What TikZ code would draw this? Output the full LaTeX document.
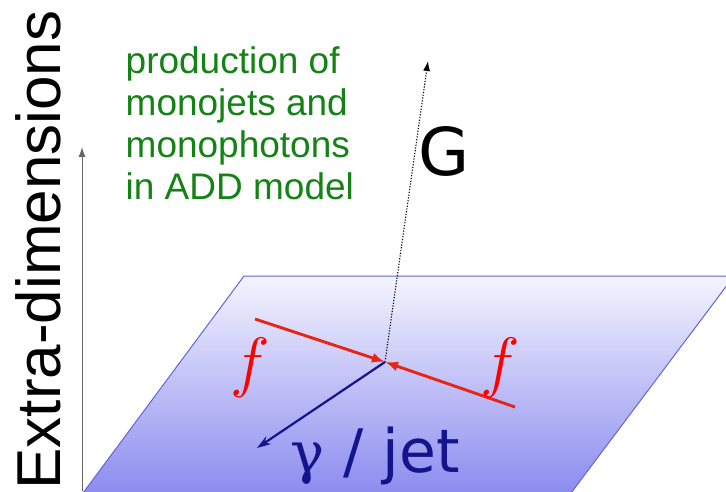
\documentclass[tikz,border=0pt]{standalone}
\usepackage{fix-cm}
\usepackage{fontspec}
\setmainfont{Liberation Sans}
\newfontfamily\dejavu{DejaVu Sans}
\newfontfamily\greekserif{DejaVu Serif}
\usepackage{xcolor}
\definecolor{fermred}{RGB}{232,36,20}
\definecolor{jetnavy}{RGB}{20,20,140}
\definecolor{captgreen}{RGB}{20,130,20}
\definecolor{braneedge}{RGB}{100,100,210}
\definecolor{branetop}{RGB}{244,244,254}
\definecolor{branebot}{RGB}{140,140,240}
\usepackage{tikz}
\usetikzlibrary{arrows.meta}
\tikzset{
    fermArr/.style  = {-{Latex[length=13pt,width=10pt]}, line width=2.9pt, draw=fermred},
    jetArr/.style   = {-{Stealth[length=14pt,width=9pt]}, line width=2.2pt, draw=jetnavy},
    gravArr/.style  = {-{Latex[length=10pt,width=7pt]}, line width=1.1pt,
                       dash pattern=on 1.2pt off 1.6pt, draw=black},
    axisArr/.style  = {-{Latex[length=10pt,width=7pt]}, line width=1pt, draw=gray!80!black},
    brane/.style    = {draw=braneedge, line width=1pt, top color=branetop, bottom color=branebot},
    biglabel/.style = {inner sep=0pt, font=\fontsize{62}{70}\selectfont}
}

\begin{document}
\begin{tikzpicture}[x=1pt, y=1pt,
    caption/.style = {inner sep=0pt, align=left, text=captgreen,
                      font=\fontsize{37}{42}\selectfont},
    flabel/.style  = {inner sep=0pt, text=red, font=\fontsize{67}{70}\selectfont}
]
\useasboundingbox (0,0) rectangle (726,491);
\clip (0,0) rectangle (726,491);

% ===== Brane (the 3+1 world) =====
\path[brane] (244,215) -- (734,215) -- (571,-2) -- (83,-2) -- cycle;

% ===== Extra-dimension axis =====
\coordinate (axisfoot) at (82,0);
\coordinate (axistip) at (82,344);
\draw[axisArr] (axisfoot) -- (axistip);
\node[biglabel, rotate=90, anchor=base] (extradim) at (60,241) {Extra-dimensions};

% ===== Vertex and legs =====
\coordinate (vtx) at (385,129);
\coordinate (fin) at (255,172);
\coordinate (fbarin) at (515,84);
\coordinate (gout) at (428,430);
\coordinate (jetout) at (257,43);

\draw[gravArr] (vtx) -- (gout);
\draw[jetArr] (vtx) -- (jetout);
\draw[fermArr] (fin) -- (vtx);
\draw[fermArr] (fbarin) -- (vtx);

% ===== Labels =====
\node[caption, anchor=north west] (prodtext) at (125.5,445)
   {production of\\monojets and\\monophotons\\in ADD model};
\node[inner sep=0pt, anchor=base west, font=\dejavu\fontsize{66}{70}\selectfont]
   (gravlabel) at (418,316) {G};
\node[flabel, anchor=base west] (fleft) at (230,107) {$f$};
\node[flabel, anchor=base west] (fright) at (480,107) {$f$};
\node[inner sep=0pt, anchor=base west, text=jetnavy,
      font=\dejavu\fontsize{60}{66}\selectfont] (jetlabel) at (290,19)
   {{\greekserif\fontsize{57}{66}\selectfont γ} / jet};

\end{tikzpicture}
\end{document}
